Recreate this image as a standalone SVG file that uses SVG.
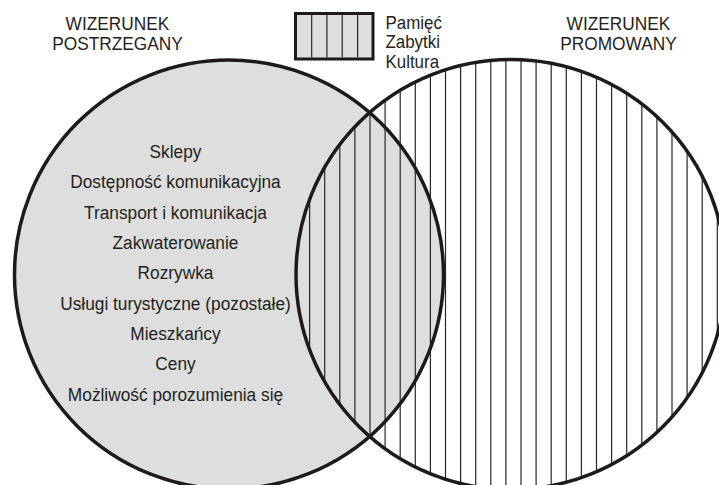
<svg xmlns="http://www.w3.org/2000/svg" width="719" height="485" viewBox="0 0 719 485">
<style>
.t{font-family:"Liberation Sans",Arial,sans-serif;font-size:18.6px;fill:#231f20}
.c{text-anchor:middle}
.ring{fill:none;stroke:#1e1a1a;stroke-width:3.5}
.st{stroke:#2a2626;stroke-width:1.2}
</style>
<defs>
<clipPath id="rc"><circle cx="511" cy="274.5" r="215"/></clipPath>
</defs>
<rect width="719" height="485" fill="#fff"/>
<g id="promowany-fill">
<circle cx="511" cy="274.5" r="215" fill="#fff"/>
</g>
<g id="postrzegany-fill">
<circle cx="229" cy="274.5" r="214.5" fill="#dedede"/>
</g>
<g id="stripes" clip-path="url(#rc)" class="st">
<line x1="294.5" y1="50" x2="294.5" y2="490"/>
<line x1="309.6" y1="50" x2="309.6" y2="490"/>
<line x1="324.7" y1="50" x2="324.7" y2="490"/>
<line x1="339.8" y1="50" x2="339.8" y2="490"/>
<line x1="354.9" y1="50" x2="354.9" y2="490"/>
<line x1="370" y1="50" x2="370" y2="490"/>
<line x1="385.1" y1="50" x2="385.1" y2="490"/>
<line x1="400.2" y1="50" x2="400.2" y2="490"/>
<line x1="415.3" y1="50" x2="415.3" y2="490"/>
<line x1="430.4" y1="50" x2="430.4" y2="490"/>
<line x1="445.5" y1="50" x2="445.5" y2="490"/>
<line x1="460.6" y1="50" x2="460.6" y2="490"/>
<line x1="475.7" y1="50" x2="475.7" y2="490"/>
<line x1="490.8" y1="50" x2="490.8" y2="490"/>
<line x1="505.9" y1="50" x2="505.9" y2="490"/>
<line x1="521" y1="50" x2="521" y2="490"/>
<line x1="536.1" y1="50" x2="536.1" y2="490"/>
<line x1="551.2" y1="50" x2="551.2" y2="490"/>
<line x1="566.3" y1="50" x2="566.3" y2="490"/>
<line x1="581.4" y1="50" x2="581.4" y2="490"/>
<line x1="596.5" y1="50" x2="596.5" y2="490"/>
<line x1="611.6" y1="50" x2="611.6" y2="490"/>
<line x1="626.7" y1="50" x2="626.7" y2="490"/>
<line x1="641.8" y1="50" x2="641.8" y2="490"/>
<line x1="656.9" y1="50" x2="656.9" y2="490"/>
<line x1="672" y1="50" x2="672" y2="490"/>
<line x1="687.1" y1="50" x2="687.1" y2="490"/>
<line x1="702.2" y1="50" x2="702.2" y2="490"/>
<line x1="717.3" y1="50" x2="717.3" y2="490"/>
</g>
<g id="outlines">
<circle class="ring" cx="229" cy="274.5" r="214.5"/>
<circle class="ring" cx="511" cy="274.5" r="215"/>
</g>
<g id="legend">
<rect x="295.5" y="13.5" width="77.5" height="45.5" fill="#dedede" stroke="#1e1a1a" stroke-width="3"/>
<g class="st">
<line x1="311.7" y1="15" x2="311.7" y2="57.5"/>
<line x1="326.9" y1="15" x2="326.9" y2="57.5"/>
<line x1="342.2" y1="15" x2="342.2" y2="57.5"/>
<line x1="357.6" y1="15" x2="357.6" y2="57.5"/>
</g>
<g transform="translate(385.5,0) scale(0.91,1) translate(-385.5,0)">
<text class="t" x="385.5" y="29">Pamięć</text>
<text class="t" x="385.5" y="48.5">Zabytki</text>
<text class="t" x="385.5" y="68">Kultura</text>
</g>
</g>
<g id="title-postrzegany" transform="translate(117.5,0) scale(0.93,1) translate(-117.5,0)">
<text class="t c" x="117.5" y="30">WIZERUNEK</text>
<text class="t c" x="117.5" y="50">POSTRZEGANY</text>
</g>
<g id="title-promowany" transform="translate(618.5,0) scale(0.93,1) translate(-618.5,0)">
<text class="t c" x="618.5" y="30">WIZERUNEK</text>
<text class="t c" x="618.5" y="50">PROMOWANY</text>
</g>
<g id="list" transform="translate(175.5,0) scale(0.93,1) translate(-175.5,0)">
<text class="t c" x="175.5" y="158">Sklepy</text>
<text class="t c" x="175.5" y="188.5">Dostępność komunikacyjna</text>
<text class="t c" x="175.5" y="219">Transport i komunikacja</text>
<text class="t c" x="175.5" y="249">Zakwaterowanie</text>
<text class="t c" x="175.5" y="279.5">Rozrywka</text>
<text class="t c" x="175.5" y="310">Usługi turystyczne (pozostałe)</text>
<text class="t c" x="175.5" y="340.5">Mieszkańcy</text>
<text class="t c" x="175.5" y="370.5">Ceny</text>
<text class="t c" x="175.5" y="401">Możliwość porozumienia się</text>
</g>
</svg>
